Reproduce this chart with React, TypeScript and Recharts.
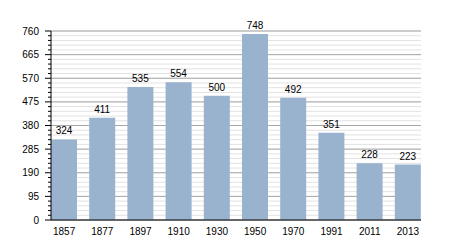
import React from 'react';
import { BarChart, Bar, XAxis, YAxis, CartesianGrid, LabelList } from 'recharts';

const years = ['1857', '1877', '1897', '1910', '1930', '1950', '1970', '1991', '2011', '2013'];
const population = [324, 411, 535, 554, 500, 748, 492, 351, 228, 223];
const majorTicks = [0, 95, 190, 285, 380, 475, 570, 665, 760];
const minorTicks = [
    0, 19, 38, 57, 76, 95, 114, 133, 152, 171, 190, 209, 228, 247, 266, 285, 304, 323, 342, 361, 380,
    399, 418, 437, 456, 475, 494, 513, 532, 551, 570, 589, 608, 627, 646, 665, 684, 703, 722, 741, 760,
];

const chartData = years.map((year, i) => ({ year, value: population[i] }));

const FONT = '"Liberation Sans", Arial, sans-serif';

const YTick = ({ x, y, payload }: any) => {
    const isMajor = majorTicks.includes(payload.value);
    return (
        <g>
            <line x1={x - (isMajor ? 6 : 3)} x2={x} y1={y} y2={y} stroke="#000" strokeWidth={1} />
            {isMajor && (
                <text x={x - 12} y={y} dy={3.5} textAnchor="end" fontSize={10} fontFamily={FONT} fill="#000">
                    {payload.value}
                </text>
            )}
        </g>
    );
};

export default function App() {
    return (
        <div style={{ position: 'absolute', left: 0, top: 0, width: 450, height: 250, background: '#fff' }}>
            <BarChart width={450} height={250} data={chartData} margin={{ top: 31, right: 29, bottom: 0, left: 0 }}>
                <CartesianGrid vertical={false} horizontalValues={minorTicks} stroke="#e2e2e2" />
                <CartesianGrid vertical={false} horizontalValues={majorTicks} stroke="#a8a8a8" />
                <XAxis
                    dataKey="year"
                    height={30}
                    padding={{ left: -6, right: -6 }}
                    tickLine={false}
                    axisLine={{ stroke: '#000' }}
                    tickMargin={2}
                    tick={{ fontSize: 10, fontFamily: FONT, fill: '#000' }}
                />
                <YAxis
                    width={51}
                    domain={[0, 760]}
                    ticks={minorTicks}
                    interval={0}
                    tickSize={0}
                    tickMargin={0}
                    tickLine={false}
                    axisLine={{ stroke: '#000' }}
                    tick={<YTick />}
                />
                <Bar dataKey="value" fill="#99b3cf" barSize={26} isAnimationActive={false}>
                    <LabelList dataKey="value" position="top" offset={5} fontSize={10} fontFamily={FONT} fill="#000" />
                </Bar>
            </BarChart>
        </div>
    );
}
